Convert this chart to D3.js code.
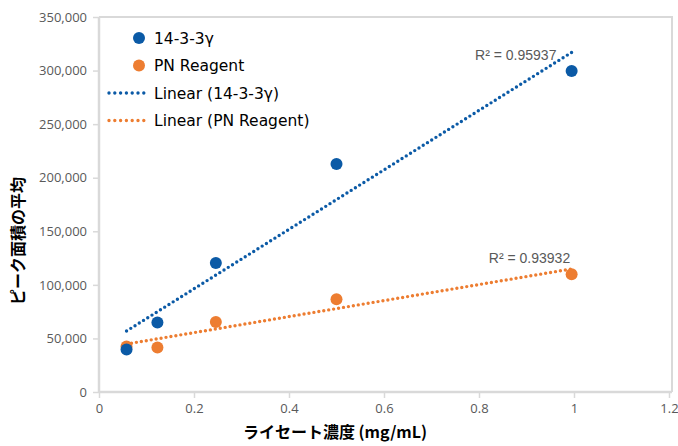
<!DOCTYPE html>
<html>
<head>
<meta charset="utf-8">
<script src="https://cdn.jsdelivr.net/npm/d3@7"></script>
<style>
  body { margin: 0; background: #fff; }
</style>
</head>
<body>
<svg></svg>
<script>
// data
var seriesNames = ["14-3-3γ", "PN Reagent"];
var seriesColors = ["#0b5aa6", "#ed7d31"];
var lysateConc = [0.058, 0.123, 0.246, 0.5, 0.995];
var areaProtein = [39600, 64900, 120500, 212800, 299700];
var areaReagent = [42500, 41500, 65400, 86600, 110000];
var r2Labels = ["R² = 0.95937", "R² = 0.93932"];
var r2LabelPos = [[0.963, 309500], [0.992, 120500]];
var xTicks = [0, 0.2, 0.4, 0.6, 0.8, 1, 1.2];
var yTicks = [0, 50000, 100000, 150000, 200000, 250000, 300000, 350000];

var svgWidth = 678;
var svgHeight = 446;

var svg = d3.select("svg")
    .attr("width", svgWidth)
    .attr("height", svgHeight);

var xScale = d3.scaleLinear().domain([0, 1.2]).range([99, 669]);
var yScale = d3.scaleLinear().domain([0, 350000]).range([392, 17]);

var gridColor = "#d9d9d9";
var tickFont = "'Open Sans', 'Liberation Sans', sans-serif";

// frame (top and right edge)
svg.append("path")
    .attr("d", "M" + xScale(0) + "," + yScale(350000) + "H" + (xScale(1.2) + 3) + "V" + yScale(0))
    .attr("fill", "none")
    .attr("stroke", gridColor)
    .attr("stroke-width", 2);

// axes
var xAxis = d3.axisBottom(xScale).tickValues(xTicks).tickSize(6).tickPadding(6)
    .tickFormat(function(d) { return d3.format("")(d); });
var yAxis = d3.axisLeft(yScale).tickValues(yTicks).tickSize(6).tickPadding(6)
    .tickFormat(d3.format(","));

var gx = svg.append("g").attr("transform", "translate(0," + yScale(0) + ")").call(xAxis);
var gy = svg.append("g").attr("transform", "translate(" + xScale(0) + ",0)").call(yAxis);

[gx, gy].forEach(function(g) {
    g.select(".domain").attr("stroke", gridColor).attr("stroke-width", 2.5);
    g.selectAll(".tick line").attr("stroke", gridColor).attr("stroke-width", 1.5);
    g.selectAll(".tick text")
        .attr("fill", "#595959")
        .attr("font-family", tickFont)
        .attr("font-size", "13px");
});
gx.select(".domain").attr("d", "M" + xScale(0) + ",0H" + (xScale(1.2) + 3));
gy.select(".domain").attr("d", "M0," + yScale(0) + "V" + yScale(350000));

// trend lines (least squares)
function fit(xs, ys) {
    var mx = d3.mean(xs), my = d3.mean(ys);
    var sxy = d3.sum(xs, function(x, i) { return (x - mx) * (ys[i] - my); });
    var sxx = d3.sum(xs, function(x) { return (x - mx) * (x - mx); });
    var slope = sxy / sxx;
    return { slope: slope, icept: my - slope * mx };
}

var allSeries = [areaProtein, areaReagent];

allSeries.forEach(function(ys, s) {
    var f = fit(lysateConc, ys);
    var x0 = d3.min(lysateConc), x1 = d3.max(lysateConc);
    svg.append("line")
        .attr("x1", xScale(x0))
        .attr("y1", yScale(f.icept + f.slope * x0))
        .attr("x2", xScale(x1))
        .attr("y2", yScale(f.icept + f.slope * x1))
        .attr("stroke", seriesColors[s])
        .attr("stroke-width", 3.4)
        .attr("stroke-linecap", "round")
        .attr("stroke-dasharray", "0 5");
});

// points, orange first so blue sits on top
[1, 0].forEach(function(s) {
    svg.selectAll("circle.s" + s)
        .data(allSeries[s])
        .enter()
        .append("circle")
        .attr("class", "s" + s)
        .attr("cx", function(d, i) { return xScale(lysateConc[i]); })
        .attr("cy", function(d) { return yScale(d); })
        .attr("r", 6)
        .attr("fill", seriesColors[s]);
});

// R² labels
svg.selectAll("text.r2")
    .data(r2Labels)
    .enter()
    .append("text")
    .attr("class", "r2")
    .attr("x", function(d, i) { return xScale(r2LabelPos[i][0]); })
    .attr("y", function(d, i) { return yScale(r2LabelPos[i][1]); })
    .attr("text-anchor", "end")
    .attr("font-family", "'Liberation Sans Narrow', 'Liberation Sans', sans-serif")
    .attr("font-size", "14px")
    .attr("fill", "#595959")
    .text(function(d) { return d; });

// legend
var legendFont = "'DejaVu Sans', Verdana, sans-serif";
var legendRows = [
    { label: seriesNames[0], color: seriesColors[0], kind: "dot" },
    { label: seriesNames[1], color: seriesColors[1], kind: "dot" },
    { label: "Linear (" + seriesNames[0] + ")", color: seriesColors[0], kind: "line" },
    { label: "Linear (" + seriesNames[1] + ")", color: seriesColors[1], kind: "line" }
];

var legend = svg.append("g").attr("transform", "translate(0,38)");
legendRows.forEach(function(row, i) {
    var y = i * 27.5;
    if (row.kind === "dot") {
        legend.append("circle")
            .attr("cx", 139).attr("cy", y).attr("r", 6)
            .attr("fill", row.color);
    } else {
        legend.append("line")
            .attr("x1", 109).attr("x2", 144)
            .attr("y1", y).attr("y2", y)
            .attr("stroke", row.color)
            .attr("stroke-width", 3.4)
            .attr("stroke-linecap", "round")
            .attr("stroke-dasharray", "0 5.8");
    }
    legend.append("text")
        .attr("x", 154).attr("y", y)
        .attr("dy", "0.36em")
        .attr("font-family", legendFont)
        .attr("font-size", "15.5px")
        .attr("fill", "#000")
        .text(row.label);
});

// axis titles
var titleFont = "'Noto Sans CJK JP', 'DejaVu Sans', sans-serif";
svg.append("text")
    .attr("x", 335).attr("y", 438)
    .attr("text-anchor", "middle")
    .attr("font-family", titleFont)
    .attr("font-size", "16px")
    .attr("font-weight", "bold")
    .text("ライセート濃度 (mg/mL)");

svg.append("text")
    .attr("transform", "translate(24,241) rotate(-90)")
    .attr("text-anchor", "middle")
    .attr("font-family", titleFont)
    .attr("font-size", "16px")
    .attr("font-weight", "bold")
    .text("ピーク面積の平均");
</script>
</body>
</html>
